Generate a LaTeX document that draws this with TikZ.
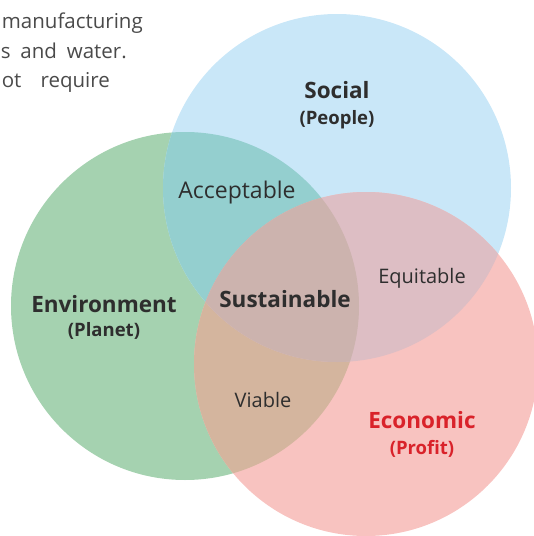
\documentclass[tikz,border=0pt]{standalone}
\usepackage{fontspec}
\setmainfont{Open Sans}
\definecolor{envgreen}{HTML}{A5D2B0}
\definecolor{socblue}{HTML}{C9E7F8}
\definecolor{ecopink}{HTML}{F8C3C0}
\definecolor{accteal}{HTML}{94CFCF}
\definecolor{equrose}{HTML}{DDBEC4}
\definecolor{viatan}{HTML}{D4B59E}
\definecolor{susmauve}{HTML}{CCB3AE}
\definecolor{txtdark}{HTML}{2E2E2E}
\definecolor{txtred}{HTML}{D9222A}
\definecolor{txtgray}{HTML}{4A4A4A}
\tikzset{
  title/.style={font=\bfseries\fontsize{22.5}{26}\selectfont, text=txtdark, anchor=base, inner sep=0pt},
  sub/.style={font=\bfseries\fontsize{18.5}{22}\selectfont, text=txtdark, anchor=base, inner sep=0pt},
  overlap/.style={font=\fontsize{20}{24}\selectfont, text=txtdark, anchor=base, inner sep=0pt},
  para/.style={font=\fontsize{20.5}{24}\selectfont, text=txtgray, anchor=base east, inner sep=0pt}
}

\begin{document}
\begin{tikzpicture}[x=1pt, y=-1pt]
    \useasboundingbox (0,0) rectangle (534,536);
    \clip (0,0) rectangle (534,536);
    \coordinate (env) at (185,306);
    \coordinate (soc) at (337,188);
    \coordinate (eco) at (366,364);
    % base circles
    \fill[envgreen] (env) circle [radius=174];
    \fill[socblue] (soc) circle [radius=174];
    \fill[ecopink] (eco) circle [radius=172];
    % pairwise overlaps
    \begin{scope}
        \clip (env) circle [radius=174];
        \fill[accteal] (soc) circle [radius=174];
        \fill[viatan] (eco) circle [radius=172];
    \end{scope}
    \begin{scope}
        \clip (soc) circle [radius=174];
        \fill[equrose] (eco) circle [radius=172];
    \end{scope}
    % centre
    \begin{scope}
        \clip (env) circle [radius=174];
        \clip (soc) circle [radius=174];
        \fill[susmauve] (eco) circle [radius=172];
    \end{scope}
    % text cut off on the left
    \node[para] (line1) at (143,28) {manufacturing};
    \node[para] (line2) at (127,58) {\makebox[126pt][s]{s and water.}};
    \node[para] (line3) at (110,87) {\makebox[108pt][s]{ot require}};
    % labels
    \node[title] (social) at (337,98) {Social};
    \node[sub] (people) at (337,124) {(People)};
    \node[title] (environment) at (104,312) {Environment};
    \node[sub] (planet) at (104,336) {(Planet)};
    \node[title, text=txtred] (economic) at (422,428) {Economic};
    \node[sub, text=txtred] (profit) at (422,454) {(Profit)};
    \node[title] (sustainable) at (285,307) {Sustainable};
    \node[overlap, font=\fontsize{23}{26}\selectfont] (acceptable) at (237,198) {Acceptable};
    \node[overlap] (equitable) at (422,283) {Equitable};
    \node[overlap] (viable) at (263,407) {Viable};
\end{tikzpicture}
\end{document}
